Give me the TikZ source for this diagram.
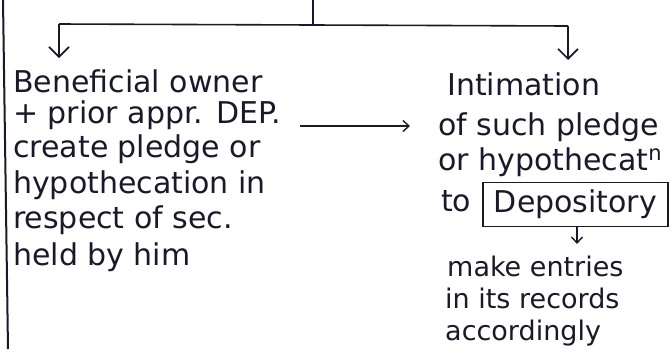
\documentclass[tikz,border=0pt]{standalone}
\usepackage{fontspec}
\setmainfont{DejaVu Sans}
\usetikzlibrary{arrows.meta}
\definecolor{ink}{RGB}{28,24,44}
\begin{document}
\begin{tikzpicture}[x=1pt,y=-1pt,
  ink line/.style={draw=ink,line width=1.6pt},
  hand/.style={font=\fontsize{30}{35}\selectfont},
  txt/.style={hand,anchor=base west,inner sep=0pt,text=ink},
  small txt/.style={txt,font=\fontsize{27}{32}\selectfont},
  bigtip/.style={-{Straight Barb[length=10pt,width=20pt,line width=1.6pt]}},
  smalltip/.style={-{Straight Barb[length=6pt,width=11pt,line width=1.4pt]}}]
\useasboundingbox[fill=white] (0,0) rectangle (672,349);

% margin rule
\coordinate (mtop) at (3,0);
\coordinate (mbot) at (8,349);
\draw[ink line,line width=2pt] (mtop) -- (mbot);

% branching from the stem
\coordinate (stem) at (313,0);
\coordinate (fork) at (313,25);
\coordinate (lcorner) at (59,24);
\coordinate (rcorner) at (568,26);
\draw[ink line] (stem) -- (fork);
\draw[ink line] (lcorner) -- (fork) -- (rcorner);

% left block
\node[txt] (l1) at (13,92)  {Beneficial owner};
\node[txt] (l2) at (13,123) {+ prior appr. DEP.};
\node[txt] (l3) at (13,157) {create pledge or};
\node[txt] (l4) at (13,193) {hypothecation in};
\node[txt] (l5) at (13,228) {respect of sec.};
\node[txt] (l6) at (13,265) {held by him};

% right block
\node[txt] (r1) at (447,95)  {Intimation};
\node[txt] (r2) at (438,135) {of such pledge};
\node[txt] (r3) at (438,170) {or hypothecat\textsuperscript{n}};
\node[txt] (r4) at (441,211) {to};
\node[draw=ink,line width=1.6pt,text=ink,hand,
      minimum width=185pt,minimum height=44pt,inner sep=0pt]
      (dep) at (575.5,204.5) {Depository};
\node[small txt] (r5) at (447,276) {make entries};
\node[small txt] (r6) at (445,308) {in its records};
\node[small txt] (r7) at (445,340) {accordingly};

% arrows
\coordinate (lhead) at (59,58);
\coordinate (rhead) at (568,60);
\draw[ink line,bigtip] (lcorner) -- (lhead);
\draw[ink line,bigtip] (rcorner) -- (rhead);

\coordinate (mstart) at (300,126);
\coordinate (mend) at (410,126);
\draw[ink line,smalltip] (mstart) -- (mend);

\coordinate (dhead) at (577,244);
\draw[ink line,smalltip] (dep.south -| dhead) -- (dhead);
\end{tikzpicture}
\end{document}
